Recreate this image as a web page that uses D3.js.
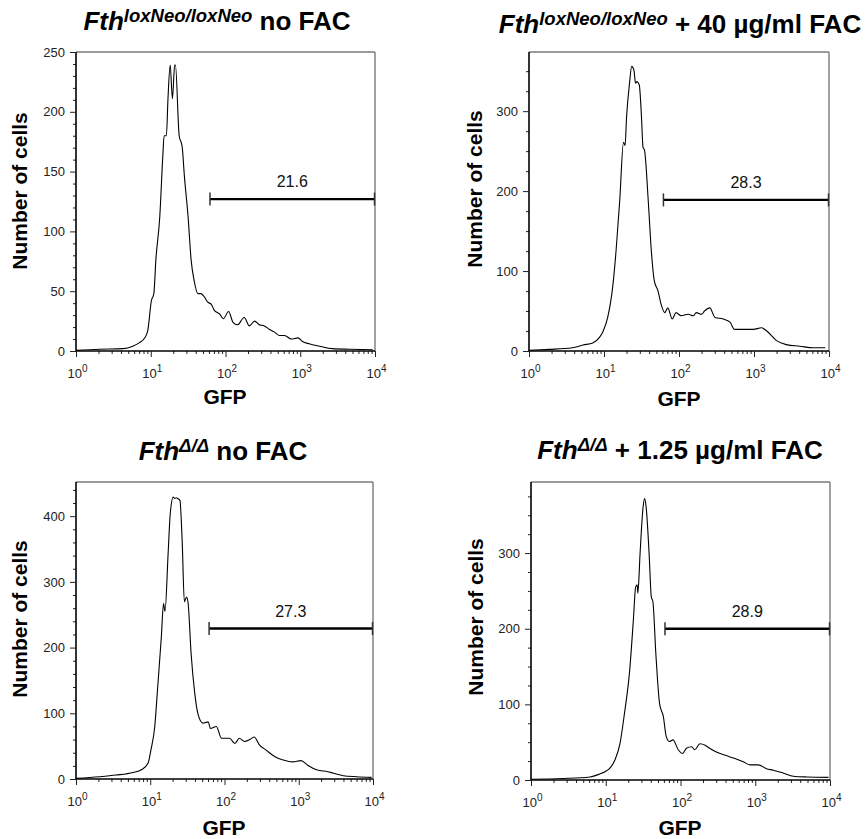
<!DOCTYPE html>
<html><head><meta charset="utf-8">
<script src="https://cdn.jsdelivr.net/npm/d3@7"></script>
<style>
body{margin:0;background:#fff}
svg{display:block}
text{font-family:"Liberation Sans",Arial,Helvetica,sans-serif}
</style>
</head><body>
<svg id="chart" width="866" height="839"></svg>
<script>
// ---------- DATA ----------
const p1GFP   = [1,2.09,4.27,5.75,7.08,8.32,9.12,10.2,11.0,11.7,13.2,14.5,15.1,16.2,17.0,18.2,19.5,20.9,21.4,24.0,26.3,28.2,31.6,34.7,38.0,42.7,46.8,52.5,57.5,64.6,70.8,83.2,93.3,110,126,145,178,209,245,282,331,389,447,525,617,759,933,1072,1318,1820,2692,4571,9333];
const p1Cells = [0.5,1.5,2,4,7,11,17,42,48,76,112,163,180,180,211,239,211,239,239,180,171,146,112,76,59,48,48,45,41,39,34,31,27,33,24,22,28,21,25,22,21,18,16,13,13,10,11,8,6,4,2,1.5,1];

const p2GFP   = [1,1.86,3.80,5.25,7.08,8.71,9.77,11.2,13.2,14.5,16.2,18.2,19.1,20.0,21.9,23.4,25.1,26.3,27.5,29.5,31.6,33.1,34.7,38.9,42.7,46.8,52.5,57.5,64.6,70.8,81.3,91.2,107,132,155,170,200,219,257,302,389,479,550,724,977,1259,1479,1995,2692,4074,6166,8913];
const p2Cells = [1,2,4,7.5,10,17,25,42,84,126,188,261,257,293,335,356,351,335,337,333,293,255,251,188,126,88,75,59,48,54,40,48,44,46,44,48,46,50,54,42,40,36,27,27,27,29,25,13,8,6,4,4];

const p3GFP   = [1,2.09,3.47,5.89,7.59,9.33,10.2,11.5,12.6,14.1,15.1,15.8,17.4,18.6,20.4,21.4,22.4,23.4,25.1,26.9,28.8,30.9,32.4,35.5,39.8,43.7,51.3,60.3,64.6,77.6,91.2,117,138,158,186,219,251,295,363,479,617,832,1072,1318,1738,2455,2884,3981,6026,9550];
const p3Cells = [1,3.5,6,10,14,24,44,80,140,216,267,255,343,404,429,427,428,427,424,363,270,277,267,191,130,100,85,87,77,80,62,62,54,62,57,60,64,52,44,34,29,26,28,21,14,11,9,5,3.5,2.5];

const p4GFP   = [1,2.69,6.17,8.32,9.77,11.2,13.2,15.5,17.8,20.9,23.4,25.1,26.3,26.9,28.8,31.6,33.1,34.7,38.0,40.7,42.7,46.8,52.5,58.9,64.6,70.8,79.4,93.3,107,120,141,155,182,214,245,302,389,513,692,851,1096,1413,1738,2399,3236,4898,9550];
const p4Cells = [1,2,4,8,11,15,26,48,88,145,211,255,258,247,300,361,372,361,300,242,236,167,101,84,57,51,53,40,35,42,44,40,48,46,42,37,33,29,24,20,20,15,13,9,5,4,3.5];

const titleGene   = ["Fth","Fth","Fth","Fth"];
const titleAllele = ["loxNeo/loxNeo","loxNeo/loxNeo","\u0394/\u0394","\u0394/\u0394"];
const titleRest   = [" no FAC"," + 40 \u00b5g/ml FAC"," no FAC"," + 1.25 \u00b5g/ml FAC"];

const gateLabels = ["21.6","28.3","27.3","28.9"];
const gateStart  = [62,62,62,62];
const gateEnd    = [9850,9850,9850,9850];
const gateLevel  = [127,189,229,200];

const yMax       = [250,374,452,394];
const yMajor     = [[0,50,100,150,200,250],[0,100,200,300],[0,100,200,300,400],[0,100,200,300]];
const yMinorStep = [10,25,20,25];
const xDecades   = [0,1,2,3,4];

const yLabel = "Number of cells";
const xLabel = "GFP";

// ---------- LAYOUT ----------
const panels = [
  {gfp:p1GFP, cells:p1Cells, x0:76,  x1:375, y0:52,  y1:351, tx:217, ty:30,  yl:[27,191],  xl:[225,404]},
  {gfp:p2GFP, cells:p2Cells, x0:529, x1:829, y0:52,  y1:351, tx:680, ty:33,  yl:[482,189], xl:[679,406]},
  {gfp:p3GFP, cells:p3Cells, x0:76,  x1:373, y0:482, y1:779, tx:223, ty:460, yl:[27,619],  xl:[224,835]},
  {gfp:p4GFP, cells:p4Cells, x0:531, x1:830, y0:482, y1:780, tx:680, ty:459, yl:[483,617], xl:[680,835]}
];

const svg = d3.select("#chart");

panels.forEach((p,i)=>{
  const g = svg.append("g");
  const x = d3.scaleLog().domain([1,1e4]).range([p.x0,p.x1]);
  const y = d3.scaleLinear().domain([0,yMax[i]]).range([p.y1,p.y0]);

  // frame top/right (gray)
  g.append("line").attr("x1",p.x0).attr("x2",p.x1).attr("y1",p.y0).attr("y2",p.y0)
    .attr("stroke","#7a7a7a").attr("stroke-width",1.4);
  g.append("line").attr("x1",p.x1).attr("x2",p.x1).attr("y1",p.y0).attr("y2",p.y1)
    .attr("stroke","#7a7a7a").attr("stroke-width",1.4);

  // y axis
  const yMinor = d3.range(0, yMax[i]+0.001, yMinorStep[i]).filter(v=>!yMajor[i].includes(v));
  const yAxMinor = d3.axisLeft(y).tickValues(yMinor).tickSize(3).tickFormat("");
  const yAx = d3.axisLeft(y).tickValues(yMajor[i]).tickSize(6).tickPadding(5).tickFormat(d3.format("d"));
  const gyMin = g.append("g").attr("transform",`translate(${p.x0},0)`).call(yAxMinor);
  gyMin.select(".domain").remove();
  const gy = g.append("g").attr("transform",`translate(${p.x0},0)`).call(yAx);
  gy.select(".domain").attr("d",`M0,${p.y0}V${p.y1}`).attr("stroke","#000").attr("stroke-width",1.6);
  gy.selectAll("text").attr("font-size",13).attr("fill","#222");

  // x axis
  const xMinor = [];
  for (let d=0; d<4; d++) for (let k=2;k<=9;k++) xMinor.push(k*Math.pow(10,d));
  const xAxMinor = d3.axisBottom(x).tickValues(xMinor).tickSize(3).tickFormat("");
  const gxMin = g.append("g").attr("transform",`translate(0,${p.y1})`).call(xAxMinor);
  gxMin.select(".domain").remove();
  const xAx = d3.axisBottom(x).tickValues(xDecades.map(e=>Math.pow(10,e))).tickSize(6).tickFormat("");
  const gx = g.append("g").attr("transform",`translate(0,${p.y1})`).call(xAx);
  gx.select(".domain").attr("d",`M${p.x0},0H${p.x1}`).attr("stroke","#000").attr("stroke-width",1.6);
  gx.selectAll(".tick").each(function(d,j){
    const t = d3.select(this).append("text").attr("x",1).attr("y",27).attr("text-anchor","middle")
      .attr("fill","#222").attr("font-size",13);
    t.append("tspan").text("10");
    t.append("tspan").attr("dy",-6).attr("font-size",10).text(xDecades[j]);
  });
  g.selectAll(".tick line").attr("stroke","#222");

  // histogram curve
  const line = d3.line().x(d=>x(d[0])).y(d=>y(d[1])).curve(d3.curveMonotoneX);
  g.append("path").datum(p.gfp.map((v,k)=>[v,p.cells[k]]))
    .attr("d",line).attr("fill","none").attr("stroke","#000").attr("stroke-width",1.1)
    .attr("stroke-linejoin","round");

  // gate
  const gy0 = y(gateLevel[i]);
  g.append("line").attr("x1",x(gateStart[i])).attr("x2",x(gateEnd[i])).attr("y1",gy0).attr("y2",gy0)
    .attr("stroke","#000").attr("stroke-width",2.4);
  [gateStart[i],gateEnd[i]].forEach(v=>{
    g.append("line").attr("x1",x(v)).attr("x2",x(v)).attr("y1",gy0-6.5).attr("y2",gy0+6.5)
      .attr("stroke","#333").attr("stroke-width",1.5);
  });
  g.append("text").attr("x",x(Math.sqrt(gateStart[i]*gateEnd[i]))).attr("y",gy0-12)
    .attr("text-anchor","middle").attr("font-size",16).attr("fill","#111").text(gateLabels[i]);

  // title
  const t = svg.append("text").attr("x",p.tx).attr("y",p.ty).attr("text-anchor","middle")
    .attr("font-weight","bold").attr("font-size",26).attr("fill","#000");
  t.append("tspan").attr("font-style","italic").text(titleGene[i]);
  t.append("tspan").attr("font-style","italic").attr("font-size",18.5).attr("dy",-8).text(titleAllele[i]);
  t.append("tspan").attr("dy",8).text(titleRest[i]);

  // axis labels
  svg.append("text").attr("transform",`translate(${p.yl[0]},${p.yl[1]}) rotate(-90)`)
    .attr("text-anchor","middle").attr("font-weight","bold").attr("font-size",21).text(yLabel);
  svg.append("text").attr("x",p.xl[0]).attr("y",p.xl[1]).attr("text-anchor","middle")
    .attr("font-weight","bold").attr("font-size",21).text(xLabel);
});
</script>
</body></html>
